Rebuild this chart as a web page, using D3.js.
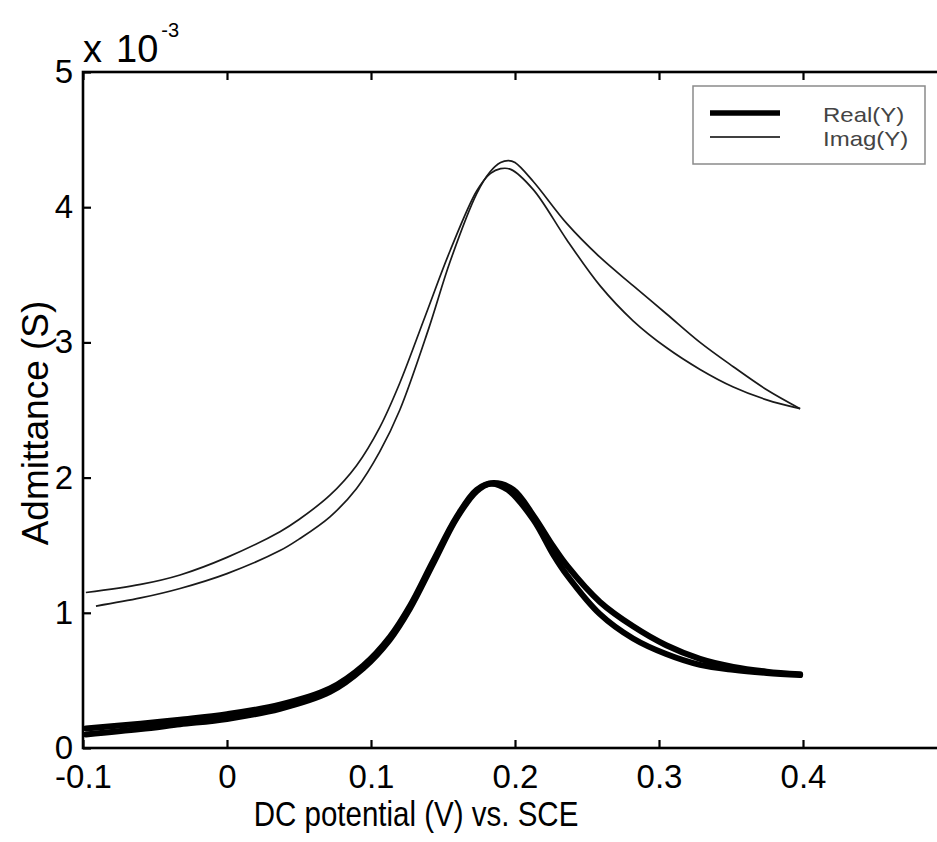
<!DOCTYPE html>
<html>
<head>
<meta charset="utf-8">
<script src="https://cdn.jsdelivr.net/npm/d3@7"></script>
<style>
  html, body { margin: 0; padding: 0; background: #fff; }
  svg { display: block; }
  text { font-family: "Liberation Sans", Arial, Helvetica, sans-serif; }
</style>
</head>
<body>
<svg id="chart" width="937" height="842"></svg>
<script>
// ---- data (admittance in units of 1e-3 S) ----
const xTicks = [-0.1, 0, 0.1, 0.2, 0.3, 0.4, 0.5];
const xTickLabels = ["-0.1", "0", "0.1", "0.2", "0.3", "0.4", ""];
const yTicks = [0, 1, 2, 3, 4, 5];
const yTickLabels = ["0", "1", "2", "3", "4", "5"];

const imagA_v = [-0.098, -0.06, -0.0326, 0, 0.0368, 0.05, 0.0715, 0.09, 0.106, 0.12, 0.1375, 0.155, 0.1734, 0.183, 0.19, 0.197, 0.2127, 0.2359, 0.259, 0.282, 0.3053, 0.3285, 0.3516, 0.3748, 0.398];
const imagA_y = [1.15, 1.21, 1.28, 1.41, 1.60, 1.69, 1.87, 2.09, 2.37, 2.70, 3.19, 3.68, 4.12, 4.25, 4.285, 4.28, 4.13, 3.76, 3.42, 3.16, 2.96, 2.80, 2.67, 2.575, 2.51];

const imagB_v = [-0.091, -0.06, -0.0326, 0, 0.0368, 0.05, 0.0715, 0.09, 0.106, 0.12, 0.140, 0.155, 0.1734, 0.1826, 0.19, 0.1954, 0.2, 0.2127, 0.2359, 0.259, 0.282, 0.3053, 0.3285, 0.3516, 0.3748, 0.398];
const imagB_y = [1.05, 1.11, 1.18, 1.29, 1.46, 1.545, 1.71, 1.92, 2.19, 2.50, 3.10, 3.60, 4.10, 4.26, 4.33, 4.345, 4.33, 4.19, 3.88, 3.63, 3.42, 3.21, 3.00, 2.82, 2.65, 2.51];

const realA_v = [-0.098, -0.06, -0.0326, 0, 0.0368, 0.0715, 0.0947, 0.113, 0.127, 0.143, 0.1595, 0.1734, 0.185, 0.1988, 0.2127, 0.2266, 0.236, 0.259, 0.282, 0.305, 0.3285, 0.3516, 0.3748, 0.398];
const realA_y = [0.145, 0.18, 0.21, 0.25, 0.32, 0.44, 0.61, 0.82, 1.05, 1.38, 1.71, 1.91, 1.96, 1.91, 1.72, 1.49, 1.35, 1.08, 0.90, 0.76, 0.66, 0.60, 0.565, 0.545];

const realB_v = [-0.098, -0.06, -0.0326, 0, 0.0368, 0.0715, 0.0947, 0.113, 0.127, 0.143, 0.1595, 0.1734, 0.183, 0.195, 0.2127, 0.2266, 0.236, 0.259, 0.282, 0.305, 0.3285, 0.3516, 0.3748, 0.398];
const realB_y = [0.10, 0.14, 0.175, 0.215, 0.29, 0.415, 0.59, 0.80, 1.03, 1.36, 1.70, 1.90, 1.955, 1.91, 1.69, 1.43, 1.28, 0.99, 0.81, 0.695, 0.615, 0.578, 0.555, 0.54];

const legendLabels = ["Real(Y)", "Imag(Y)"];

// ---- layout ----
const svg = d3.select("#chart");
const X0 = 83, X1 = 947, Y0 = 748, Y1 = 72;
const x = d3.scaleLinear().domain([-0.1, 0.5]).range([X0, X1]);
const y = d3.scaleLinear().domain([0, 5]).range([Y0, Y1]);

const zip = (vs, ys) => vs.map((v, i) => [v, ys[i]]);
const line = d3.line().x(d => x(d[0])).y(d => y(d[1])).curve(d3.curveCatmullRom.alpha(0.5));

// curves
svg.append("clipPath").attr("id", "clip").append("rect")
  .attr("x", X0).attr("y", Y1).attr("width", X1 - X0).attr("height", Y0 - Y1);
const pg = svg.append("g").attr("clip-path", "url(#clip)");

[[realA_v, realA_y], [realB_v, realB_y]].forEach(([vs, ys]) => {
  pg.append("path").datum(zip(vs, ys)).attr("d", line)
    .attr("fill", "none").attr("stroke", "#000").attr("stroke-width", 6)
    .attr("stroke-linejoin", "round").attr("stroke-linecap", "round");
});
[[imagA_v, imagA_y], [imagB_v, imagB_y]].forEach(([vs, ys]) => {
  pg.append("path").datum(zip(vs, ys)).attr("d", line)
    .attr("fill", "none").attr("stroke", "#1a1a1a").attr("stroke-width", 1.7);
});

// axes (inward ticks, MATLAB style)
const fmtX = d => xTickLabels[xTicks.indexOf(d)];
const fmtY = d => yTickLabels[yTicks.indexOf(d)];

const axB = svg.append("g").attr("transform", `translate(0,${Y0})`)
  .call(d3.axisBottom(x).tickValues(xTicks).tickFormat(fmtX).tickSizeInner(-8).tickSizeOuter(0).tickPadding(17));
const axT = svg.append("g").attr("transform", `translate(0,${Y1})`)
  .call(d3.axisTop(x).tickValues(xTicks).tickFormat("").tickSizeInner(-8).tickSizeOuter(0));
const axL = svg.append("g").attr("transform", `translate(${X0},0)`)
  .call(d3.axisLeft(y).tickValues(yTicks).tickFormat(fmtY).tickSizeInner(-8).tickSizeOuter(0).tickPadding(10));
const axR = svg.append("g").attr("transform", `translate(${X1},0)`)
  .call(d3.axisRight(y).tickValues(yTicks).tickFormat("").tickSizeInner(-8).tickSizeOuter(0));

[axB, axT, axL, axR].forEach(a => {
  a.select(".domain").remove();
  a.selectAll(".tick line").attr("stroke", "#000").attr("stroke-width", 2.2);
  a.selectAll("text").attr("font-size", 33).attr("fill", "#000")
    .attr("font-family", '"Liberation Sans", Arial, sans-serif');
});

// box
svg.append("rect").attr("x", X0).attr("y", Y1).attr("width", X1 - X0).attr("height", Y0 - Y1)
  .attr("fill", "none").attr("stroke", "#000").attr("stroke-width", 2.6);

// exponent label
const ex = svg.append("text").attr("x", X0).attr("y", 62).attr("font-size", 38).attr("fill", "#000");
ex.append("tspan").text("x");
ex.append("tspan").attr("dx", 14).text("10");
ex.append("tspan").attr("font-size", 20).attr("dy", -25).attr("dx", 3).text("-3");

// axis titles
svg.append("text").attr("transform", "translate(416,826) scale(0.82,1)")
  .attr("text-anchor", "middle").attr("font-size", 36).attr("fill", "#000")
  .text("DC potential (V) vs. SCE");
svg.append("text").attr("transform", "translate(48,423) rotate(-90)")
  .attr("text-anchor", "middle").attr("font-size", 37).attr("fill", "#000")
  .text("Admittance (S)");

// legend
const lg = svg.append("g");
lg.append("rect").attr("x", 693).attr("y", 86).attr("width", 232).attr("height", 78)
  .attr("fill", "#fff").attr("stroke", "#8a8a8a").attr("stroke-width", 1.5);
const lgW = [5.5, 1.7];
const lgY = [113, 137];
legendLabels.forEach((lab, i) => {
  lg.append("line").attr("x1", 710).attr("x2", 780).attr("y1", lgY[i]).attr("y2", lgY[i])
    .attr("stroke", "#000").attr("stroke-width", lgW[i]);
  lg.append("text").attr("transform", `translate(823,${lgY[i] + 9}) scale(1.2,1)`)
    .attr("font-size", 20).attr("fill", "#444").text(lab);
});
</script>
</body>
</html>
